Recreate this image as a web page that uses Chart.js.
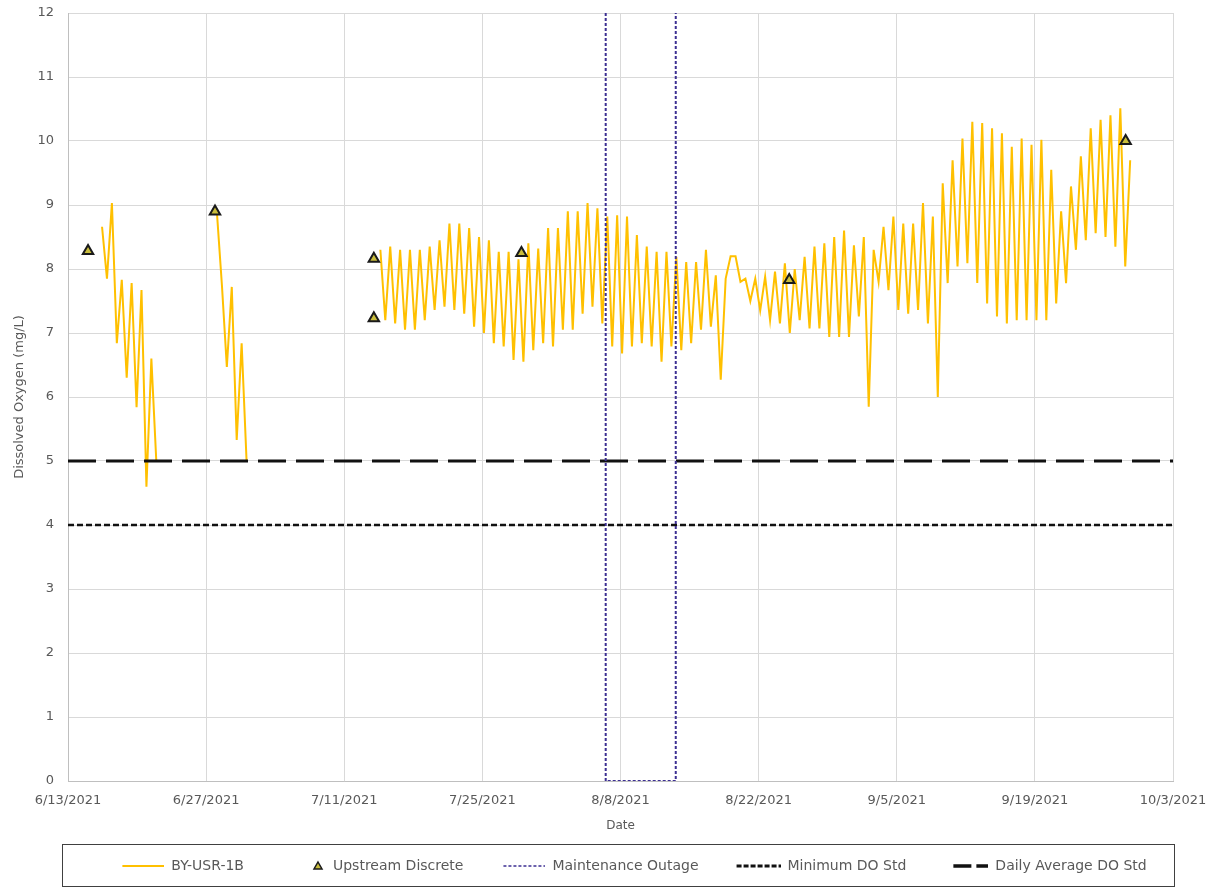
<!DOCTYPE html>
<html>
<head>
<meta charset="utf-8">
<script src="https://cdn.jsdelivr.net/npm/chart.js@4.4.1/dist/chart.umd.min.js"></script>
<style>
  html, body { margin: 0; padding: 0; background: #ffffff; }
  #doChart { display: block; }
</style>
</head>
<body>
<canvas id="doChart" width="1211" height="893"></canvas>
<script>
// Dissolved oxygen chart - BY-USR-1B

// x axis is days since 6/13/2021
const dateLabels = ["6/13/2021", "6/27/2021", "7/11/2021", "7/25/2021", "8/8/2021",
  "8/22/2021", "9/5/2021", "9/19/2021", "10/3/2021"];
const dayStep = 14;
const lastDay = 112;

// continuous logger, values every half day
const sampleStep = 0.5;

const seg1Start = 3.45;
const seg1Values = [8.66, 7.85, 9.03, 6.84, 7.83, 6.3, 7.78, 5.84, 7.67, 4.6, 6.6, 5.0];

const seg2Start = 15.1;
const seg2Values = [8.87, 7.75, 6.47, 7.72, 5.33, 6.84, 5.0];

const seg3Start = 31.66;
const seg3Values = [
  8.3,
  7.2, 8.35, 7.15, 8.3, 7.05, 8.3, 7.05, 8.3, 7.2, 8.35,
  7.36, 8.45, 7.41, 8.71, 7.36, 8.71, 7.3, 8.64, 7.1, 8.5,
  7.0, 8.45, 6.84, 8.27, 6.79, 8.27, 6.58, 8.15, 6.55, 8.4,
  6.73, 8.32, 6.84, 8.64, 6.79, 8.64, 7.05, 8.9, 7.05, 8.9,
  7.3, 9.03, 7.41, 8.95, 7.15, 8.82, 6.79, 8.84, 6.68, 8.82,
  6.79, 8.53, 6.84, 8.35, 6.79, 8.27, 6.55, 8.27, 6.79, 8.19,
  6.73, 8.11, 6.84, 8.11, 7.05, 8.3, 7.1, 7.9, 6.27, 7.85,
  8.2, 8.2, 7.8, 7.85, 7.5, 7.85, 7.35, 7.88, 7.2, 7.96,
  7.15, 8.09, 7.0, 8.0, 7.2, 8.19, 7.07, 8.35, 7.07, 8.4,
  6.94, 8.5, 6.94, 8.6, 6.94, 8.37, 7.26, 8.5, 5.85, 8.3,
  7.8, 8.66, 7.67, 8.82, 7.36, 8.71, 7.3, 8.71, 7.36, 9.03,
  7.15, 8.82, 6.0, 9.34, 7.78, 9.7, 8.04, 10.04, 8.09, 10.3,
  7.78, 10.28, 7.46, 10.2, 7.26, 10.12, 7.15, 9.91, 7.2, 10.04,
  7.2, 9.94, 7.2, 10.02, 7.2, 9.55, 7.46, 8.9, 7.78, 9.29,
  8.3, 9.76, 8.45, 10.2, 8.56, 10.33, 8.5, 10.4, 8.35, 10.51,
  8.04, 9.7
];

// upstream discrete grab samples
const discreteDays = [2.03, 14.9, 31.0, 31.0, 45.96, 73.1, 107.2];
const discreteValues = [8.28, 8.9, 8.16, 7.23, 8.25, 7.83, 10.0];

// maintenance outage window (days)
const outageStart = 54.5;
const outageEnd = 61.6;

// standards (mg/L)
const minDOStd = 4;
const dailyAvgDOStd = 5;

const gold = "#ffc000";
const outageColor = "#3d2f92";
const textGray = "#595959";
const fontFamily = "'DejaVu Sans', Verdana, sans-serif";
const iconW = 70;

function buildLoggerSeries() {
  const segments = [
    { start: seg1Start, values: seg1Values },
    { start: seg2Start, values: seg2Values },
    { start: seg3Start, values: seg3Values },
  ];
  const pts = [];
  segments.forEach((seg, i) => {
    if (i > 0) pts.push({ x: seg.start - sampleStep / 2, y: null });
    seg.values.forEach((v, k) => pts.push({ x: seg.start + k * sampleStep, y: v }));
  });
  return pts;
}

// legend symbols, drawn at the right end of a blank strip
function lineIcon(color, width, dash, from) {
  const c = document.createElement("canvas");
  c.width = iconW;
  c.height = 12;
  const g = c.getContext("2d");
  g.strokeStyle = color;
  g.lineWidth = width;
  g.setLineDash(dash);
  g.beginPath();
  g.moveTo(from, 6);
  g.lineTo(iconW, 6);
  g.stroke();
  return c;
}

function triangleIcon() {
  const c = document.createElement("canvas");
  c.width = iconW;
  c.height = 12;
  const g = c.getContext("2d");
  g.fillStyle = "#c9bd3c";
  g.strokeStyle = "#1a1a1a";
  g.lineWidth = 1.5;
  g.beginPath();
  g.moveTo(iconW - 8, 2);
  g.lineTo(iconW - 4, 9);
  g.lineTo(iconW - 12, 9);
  g.closePath();
  g.fill();
  g.stroke();
  return c;
}

const legendIcons = [
  lineIcon(gold, 2, [], 28),
  triangleIcon(),
  lineIcon(outageColor, 1.5, [3, 2], 28),
  lineIcon("#111111", 3, [5, 2], 26),
  lineIcon("#111111", 3.5, [18, 5], 35),
];

// box drawn round the legend
const legendBox = {
  id: "legendBox",
  afterDraw(chart) {
    const { ctx, chartArea, legend } = chart;
    ctx.save();
    ctx.strokeStyle = "#404040";
    ctx.lineWidth = 1;
    ctx.strokeRect(chartArea.left - 5.5, legend.top - 2.5, chartArea.right - chartArea.left + 7, 42);
    ctx.restore();
  },
};

const ctx = document.getElementById("doChart").getContext("2d");

new Chart(ctx, {
  type: "line",
  data: {
    datasets: [
      {
        label: "BY-USR-1B",
        data: buildLoggerSeries(),
        borderColor: gold,
        borderWidth: 2,
        pointRadius: 0,
        tension: 0,
        spanGaps: false,
        order: 3,
      },
      {
        label: "Upstream Discrete",
        data: discreteDays.map((d, i) => ({ x: d, y: discreteValues[i] })),
        showLine: false,
        pointStyle: "triangle",
        pointRadius: 6,
        backgroundColor: "#c9bd3c",
        borderColor: "#1a1a1a",
        borderWidth: 2,
        order: 0,
      },
      {
        label: "Maintenance Outage",
        data: [
          { x: outageStart, y: 12 },
          { x: outageStart, y: 0 },
          { x: outageEnd, y: 0 },
          { x: outageEnd, y: 12 },
        ],
        borderColor: outageColor,
        borderWidth: 2,
        borderDash: [3, 2],
        pointRadius: 0,
        order: 1,
      },
      {
        label: "Minimum DO Std",
        data: [{ x: 0, y: minDOStd }, { x: lastDay, y: minDOStd }],
        borderColor: "#111111",
        borderWidth: 2.5,
        borderDash: [6, 3],
        pointRadius: 0,
        order: 2,
      },
      {
        label: "Daily Average DO Std",
        data: [{ x: 0, y: dailyAvgDOStd }, { x: lastDay, y: dailyAvgDOStd }],
        borderColor: "#111111",
        borderWidth: 3,
        borderDash: [28, 10],
        pointRadius: 0,
        order: 2,
      },
    ],
  },
  options: {
    responsive: false,
    animation: false,
    layout: {
      padding: { top: 13, right: 38, bottom: 10, left: 0 },
    },
    plugins: {
      tooltip: { enabled: false },
      legend: {
        position: "bottom",
        fullSize: false,
        labels: {
          usePointStyle: true,
          pointStyleWidth: iconW,
          boxHeight: 12,
          padding: 12,
          color: textGray,
          font: { family: fontFamily, size: 14 },
          generateLabels(chart) {
            return chart.data.datasets.map((ds, i) => ({
              text: ds.label,
              pointStyle: legendIcons[i],
              fontColor: textGray,
              lineWidth: 0,
              strokeStyle: "transparent",
              fillStyle: "transparent",
              hidden: false,
              datasetIndex: i,
            }));
          },
        },
      },
    },
    scales: {
      x: {
        type: "linear",
        min: 0,
        max: lastDay,
        ticks: {
          stepSize: dayStep,
          color: textGray,
          font: { family: fontFamily, size: 13 },
          padding: 12,
          maxRotation: 0,
          callback: (v) => dateLabels[Math.round(v / dayStep)],
        },
        grid: { color: "#d9d9d9", drawTicks: false },
        border: { color: "#bfbfbf" },
        title: {
          display: true,
          text: "Date",
          color: textGray,
          font: { family: fontFamily, size: 12 },
          padding: { top: 4, bottom: 14 },
        },
        afterFit(scale) {
          scale.height = 66;
          scale.paddingLeft = 0;
          scale.paddingRight = 0;
        },
      },
      y: {
        min: 0,
        max: 12,
        ticks: {
          stepSize: 1,
          color: textGray,
          font: { family: fontFamily, size: 13 },
          padding: 14,
        },
        grid: { color: "#d9d9d9", drawTicks: false },
        border: { color: "#bfbfbf" },
        title: {
          display: true,
          text: "Dissolved Oxygen (mg/L)",
          color: textGray,
          font: { family: fontFamily, size: 13 },
          padding: { top: 12, bottom: 4 },
        },
        afterFit(scale) {
          scale.width = 68;
          scale.paddingTop = 0;
          scale.paddingBottom = 0;
        },
      },
    },
  },
  plugins: [legendBox],
});
</script>
</body>
</html>
